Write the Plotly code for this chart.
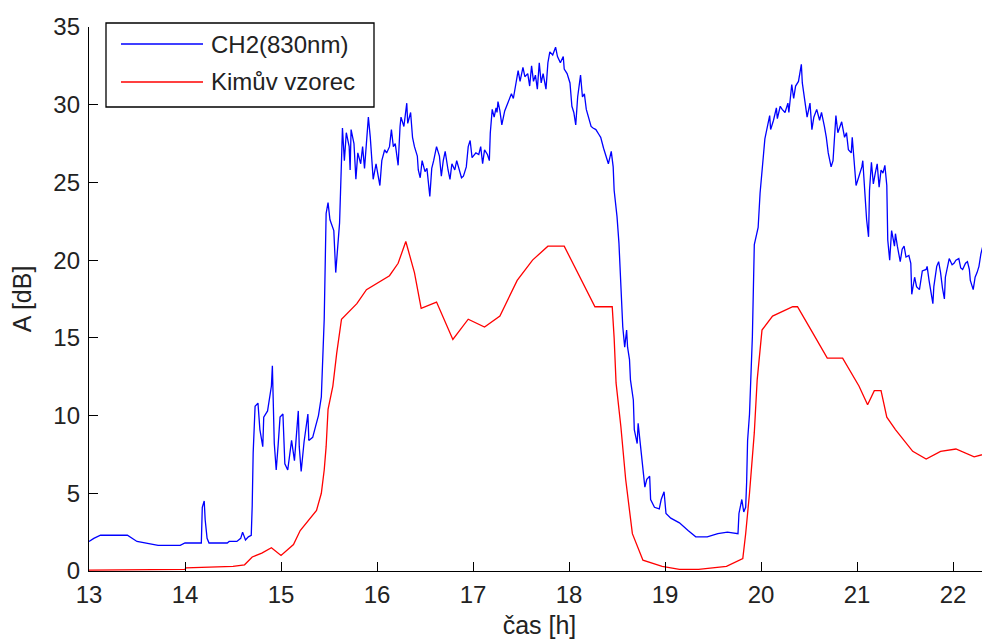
import plotly.graph_objects as go

# ---- data ----
blue_name = "CH2(830nm)"
red_name = "Kimův vzorec"

blue_t = [13.00,13.05,13.12,13.40,13.50,13.60,13.72,13.95,14.00,14.17,14.18,14.20,14.21,14.23,14.25,14.44,14.46,14.54,14.58,14.60,
          14.63,14.66,14.69,14.70,14.71,14.73,14.76,14.78,14.81,14.82,14.86,14.90,14.91,14.93,14.95,14.97,14.99,15.02,15.04,15.07,
          15.11,15.14,15.18,15.19,15.21,15.24,15.28,15.29,15.33,15.36,15.39,15.42,15.45,15.47,15.49,15.51,15.55,15.57,15.58,15.61,
          15.63,15.64,15.66,15.68,15.71,15.72,15.73,15.76,15.78,15.80,15.83,15.85,15.87,15.91,15.93,15.96,15.99,16.01,16.03,16.05,
          16.08,16.10,16.13,16.15,16.17,16.19,16.22,16.24,16.25,16.28,16.31,16.32,16.35,16.37,16.39,16.42,16.43,16.45,16.47,16.50,
          16.52,16.55,16.57,16.59,16.62,16.65,16.67,16.69,16.71,16.74,16.76,16.78,16.81,16.83,16.85,16.88,16.90,16.93,16.95,16.97,
          16.99,17.03,17.06,17.08,17.10,17.12,17.15,17.17,17.18,17.20,17.22,17.24,17.25,17.26,17.28,17.30,17.33,17.35,17.38,17.40,
          17.42,17.45,17.47,17.49,17.52,17.54,17.57,17.59,17.61,17.63,17.65,17.67,17.69,17.71,17.73,17.76,17.78,17.80,17.83,17.86,
          17.88,17.91,17.94,17.95,17.98,18.01,18.03,18.05,18.07,18.09,18.12,18.14,18.16,18.18,18.21,18.23,18.25,18.28,18.31,18.33,
          18.36,18.39,18.41,18.44,18.46,18.47,18.50,18.52,18.54,18.56,18.58,18.60,18.61,18.63,18.64,18.66,18.67,18.68,18.71,18.72,
          18.73,18.75,18.77,18.79,18.81,18.84,18.85,18.89,18.94,18.96,18.99,19.01,19.06,19.15,19.24,19.32,19.44,19.55,19.65,19.76,
          19.77,19.80,19.82,19.84,19.85,19.86,19.88,19.91,19.93,19.95,19.97,19.99,20.02,20.04,20.07,20.09,20.10,20.13,20.16,20.17,
          20.20,20.22,20.25,20.28,20.29,20.32,20.34,20.36,20.39,20.42,20.43,20.46,20.48,20.51,20.53,20.55,20.58,20.61,20.63,20.66,
          20.68,20.70,20.73,20.75,20.78,20.80,20.82,20.84,20.87,20.89,20.91,20.94,20.95,20.97,20.99,21.02,21.05,21.06,21.08,21.10,
          21.12,21.13,21.15,21.17,21.19,21.21,21.23,21.25,21.27,21.29,21.31,21.32,21.34,21.36,21.39,21.40,21.42,21.45,21.47,21.49,
          21.51,21.54,21.56,21.57,21.60,21.62,21.65,21.68,21.72,21.73,21.75,21.77,21.79,21.80,21.83,21.85,21.87,21.89,21.91,21.92,
          21.94,21.96,21.99,22.01,22.03,22.06,22.08,22.10,22.13,22.15,22.17,22.18,22.21,22.23,22.25,22.27,22.29,22.31,22.32,22.34,
          22.37]
blue_a = [1.9,2.1,2.3,2.3,1.9,1.8,1.65,1.65,1.8,1.8,4.1,4.5,3.3,2.1,1.8,1.8,1.9,1.9,2.1,2.5,
          2.0,2.2,2.3,4.2,7.6,10.6,10.8,9.1,8.0,9.9,10.3,11.9,13.2,8.2,6.5,8.1,9.9,10.1,6.9,6.5,
          8.4,7.1,10.3,8.0,6.4,8.3,10.1,8.4,8.6,9.3,10.0,11.2,16.2,23.0,23.7,22.6,21.9,19.2,20.0,22.4,
          26.4,28.5,26.4,28.2,27.3,25.8,28.4,27.5,25.2,26.9,26.2,27.3,25.9,29.2,27.9,25.2,26.2,25.6,24.8,26.4,
          27.1,26.9,27.3,28.4,27.3,27.5,26.1,28.6,29.2,28.6,30.1,28.8,29.5,27.9,27.3,26.7,25.8,25.3,26.4,25.7,
          25.9,24.1,25.9,26.4,27.3,26.7,25.4,26.4,27.0,25.8,25.2,26.2,25.8,26.4,26.0,25.3,25.4,26.0,27.3,27.7,
          26.6,26.9,26.8,27.3,26.2,27.1,26.8,26.4,28.2,29.7,29.2,29.8,29.5,30.2,29.6,28.7,29.6,29.9,30.3,30.7,
          30.4,31.6,32.2,31.5,32.4,31.8,32.0,31.2,32.5,31.5,31.9,31.0,32.7,31.4,32.0,31.0,32.7,33.4,33.2,33.7,
          33.1,32.7,33.1,32.3,32.0,31.4,29.9,29.5,28.7,30.5,31.9,30.5,30.7,29.7,29.1,28.6,28.5,28.4,28.1,27.9,
          27.2,26.6,26.2,27.0,26.0,24.5,22.8,21.1,18.3,15.7,14.4,15.5,14.4,13.6,12.3,11.4,11.0,9.1,8.2,9.5,
          8.9,7.8,6.5,5.4,5.9,6.1,4.6,4.1,4.0,4.6,5.1,3.7,3.4,3.1,2.6,2.2,2.2,2.4,2.5,2.4,
          3.7,4.6,3.8,4.1,5.7,8.4,10.1,15.1,21.0,21.6,22.1,24.3,26.2,27.8,28.7,29.3,28.4,29.0,29.8,29.1,
          29.9,29.7,29.5,30.1,29.5,31.3,30.4,31.2,31.5,32.6,31.4,30.1,29.2,30.1,28.4,29.2,29.7,29.0,29.5,28.6,
          27.9,26.9,26.0,26.4,29.3,28.2,28.6,28.9,27.9,28.2,27.1,26.9,27.9,26.0,24.8,25.4,26.0,26.4,24.5,22.6,
          21.5,24.5,26.3,24.9,25.6,26.2,24.7,25.8,25.6,26.1,24.8,21.3,20.0,21.9,20.9,21.7,20.9,19.9,20.7,20.9,
          20.2,20.3,19.8,17.8,18.9,18.3,18.1,19.3,19.4,19.6,18.7,17.8,17.2,18.3,19.6,19.9,19.2,18.2,17.5,18.9,
          19.6,20.1,19.7,19.8,20.0,20.1,19.5,19.4,19.8,19.9,19.4,18.7,18.1,18.9,19.2,19.6,20.4,20.9,20.0,21.3,
          21.7]

red_t = [13.00,14.00,14.01,14.50,14.62,14.70,14.80,14.90,15.00,15.13,15.20,15.25,15.37,15.42,15.45,15.47,15.49,15.54,15.58,15.63,
         15.79,15.89,16.13,16.22,16.30,16.39,16.46,16.62,16.79,16.95,17.12,17.28,17.46,17.62,17.78,17.95,18.07,18.27,18.45,18.47,
         18.49,18.54,18.59,18.66,18.77,18.97,19.15,19.35,19.64,19.81,19.84,19.88,19.93,19.96,20.01,20.12,20.33,20.38,20.54,20.69,
         20.85,20.97,21.02,21.11,21.18,21.25,21.31,21.40,21.58,21.72,21.87,22.03,22.22,22.38]
red_a = [0.05,0.1,0.2,0.3,0.4,0.9,1.15,1.5,1.0,1.7,2.6,3.0,3.9,5.0,6.5,8.0,10.4,11.9,14.0,16.2,
         17.2,18.1,19.0,19.8,21.2,19.2,16.9,17.3,14.9,16.2,15.7,16.4,18.7,20.0,20.9,20.9,19.4,17.0,17.0,15.0,
         12.1,9.3,5.9,2.4,0.7,0.3,0.1,0.1,0.3,0.8,2.4,5.0,8.9,12.3,15.5,16.4,17.0,17.0,15.3,13.7,
         13.7,12.4,11.9,10.7,11.6,11.6,9.9,9.1,7.7,7.2,7.7,7.85,7.35,7.6]

x_ticks = [13, 14, 15, 16, 17, 18, 19, 20, 21, 22]
y_ticks = [0, 5, 10, 15, 20, 25, 30, 35]
x_title = "čas [h]"
y_title = "A [dB]"

BLUE = "rgb(0,0,255)"
RED = "rgb(255,0,0)"
FONT = "Liberation Sans, Arial, sans-serif"
TXT = "#222"

fig = go.Figure()
fig.add_trace(go.Scatter(x=blue_t, y=blue_a, mode="lines", name=blue_name,
                         line=dict(color=BLUE, width=1.3), showlegend=False))
fig.add_trace(go.Scatter(x=red_t, y=red_a, mode="lines", name=red_name,
                         line=dict(color=RED, width=1.3), showlegend=False))

# page has ~8px body margin: compensate so the plot area sits at x 89..990, y 27..571
OFF = 8
W, H = 990 - OFF, 639 - OFF
L, R, T = 89 - OFF, 0, 27 - OFF
PH = 544
B = H - T - PH
PX0, PX1, PY0, PY1 = 89, 990, 27, 571   # plot area in page pixels
px = lambda p: (p - PX0) / (PX1 - PX0)
py = lambda p: (PY1 - p) / (PY1 - PY0)

shapes = [dict(type="rect", xref="paper", yref="paper",
               x0=px(106), x1=px(374), y0=py(107), y1=py(23),
               line=dict(color="black", width=1.3), fillcolor="white", layer="above")]
annotations = []
for name, col, yy in [(blue_name, BLUE, 44), (red_name, RED, 82)]:
    shapes.append(dict(type="line", xref="paper", yref="paper",
                       x0=px(121), x1=px(203), y0=py(yy), y1=py(yy),
                       line=dict(color=col, width=1.3), layer="above"))
    annotations.append(dict(xref="paper", yref="paper", x=px(209), y=py(yy),
                            text=name, showarrow=False, xanchor="left", yanchor="middle",
                            font=dict(family=FONT, size=24, color=TXT)))

fig.update_layout(
    width=W, height=H,
    margin=dict(l=L, r=R, t=T, b=B, pad=0),
    plot_bgcolor="white", paper_bgcolor="white",
    font=dict(family=FONT, size=24, color=TXT),
    shapes=shapes, annotations=annotations,
    xaxis=dict(range=[13, 22.385], tickvals=x_ticks, ticks="inside", ticklen=9,
               tickcolor="black", showline=True, linecolor="black", linewidth=1.3,
               showgrid=False, zeroline=False, mirror=False, automargin=False,
               ticklabelstandoff=2,
               tickfont=dict(family=FONT, size=24, color=TXT),
               title=dict(text=x_title, font=dict(family=FONT, size=25, color=TXT), standoff=9)),
    yaxis=dict(range=[0, 35], tickvals=y_ticks, ticks="inside", ticklen=9,
               tickcolor="black", showline=True, linecolor="black", linewidth=1.3,
               showgrid=False, zeroline=False, mirror=False, automargin=False,
               ticklabelstandoff=3,
               tickfont=dict(family=FONT, size=24, color=TXT),
               title=dict(text=y_title, font=dict(family=FONT, size=25, color=TXT), standoff=14)),
)

fig.write_html("out.html")
